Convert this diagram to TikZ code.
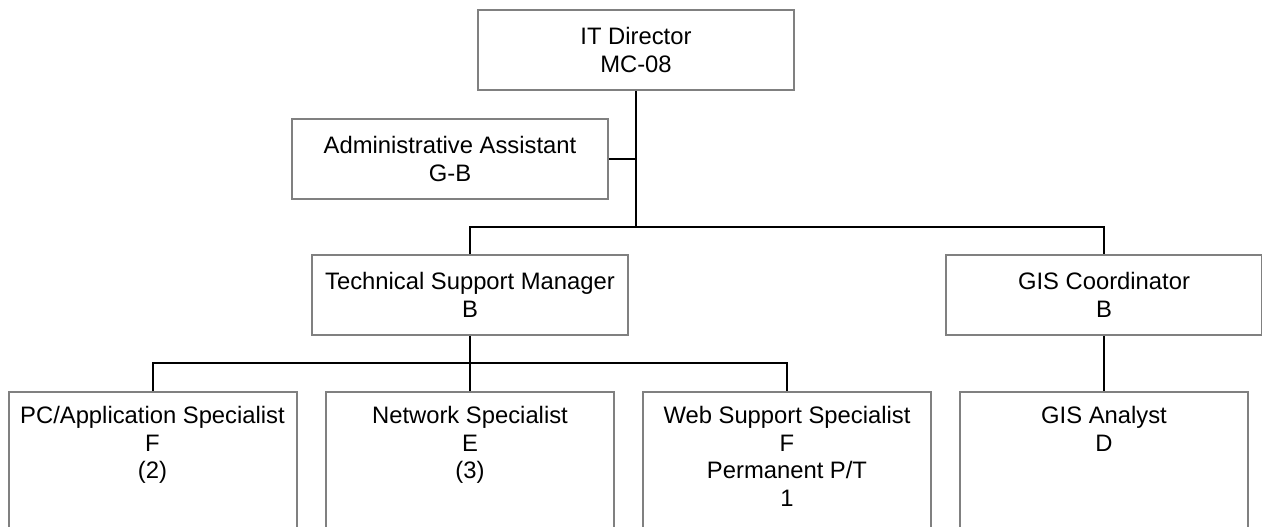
\documentclass[tikz,border=0pt]{standalone}
\usepackage{fontspec}
\setmainfont{Liberation Sans}
\definecolor{boxgray}{RGB}{128,128,128}
\begin{document}
\begin{tikzpicture}[x=1pt, y=-1pt,
  box/.style={draw=boxgray, line width=2pt, fill=white, inner sep=0pt,
    font=\fontsize{23.8}{27.5}\selectfont, align=center},
  topbox/.style={box, minimum width=316pt, minimum height=80pt},
  staffbox/.style={box, minimum width=288pt, minimum height=200pt},
  lbl/.style={font=\fontsize{23.8}{27.5}\selectfont, align=center, inner sep=0pt, anchor=north},
  conn/.style={draw=black, line width=2pt}]
\clip (0,0) rectangle (1262,527);
\fill[white] (0,0) rectangle (1262,527);

% upper levels
\node[topbox] (itd) at (636,50) {IT Director\\MC-08};
\node[topbox] (adm) at (450,159) {Administrative Assistant\\G-B};
\node[topbox] (tsm) at (470,295) {Technical Support Manager\\B};
\node[topbox] (gisc) at (1104,295) {GIS Coordinator\\B};

% staff level (boxes run past the lower edge)
\node[staffbox, anchor=north] (pc)   at (152.5,391) {};
\node[staffbox, anchor=north] (net)  at (470,391) {};
\node[staffbox, anchor=north] (web)  at (787,391) {};
\node[staffbox, anchor=north] (gisa) at (1104,391) {};

\node[lbl] (pct)   at ([yshift=-15.5pt]pc.north)   {PC/Application Specialist\\F\\(2)};
\node[lbl] (nett)  at ([yshift=-15.5pt]net.north)  {Network Specialist\\E\\(3)};
\node[lbl] (webt)  at ([yshift=-15.5pt]web.north)  {Web Support Specialist\\F\\Permanent P/T\\1};
\node[lbl] (gisat) at ([yshift=-15.5pt]gisa.north) {GIS Analyst\\D};

% reporting lines
\coordinate (bus1) at (636,227);
\coordinate (bus2) at (470,363);
\draw[conn] (itd.south) -- (bus1);
\draw[conn] (adm.east) -- (adm.east -| itd.south);
\draw[conn] (tsm.north) |- (bus1) -| (gisc.north);
\draw[conn] (tsm.south) -- (net.north);
\draw[conn] (pc.north) |- (bus2) -| (web.north);
\draw[conn] (gisc.south) -- (gisa.north);
\end{tikzpicture}
\end{document}
